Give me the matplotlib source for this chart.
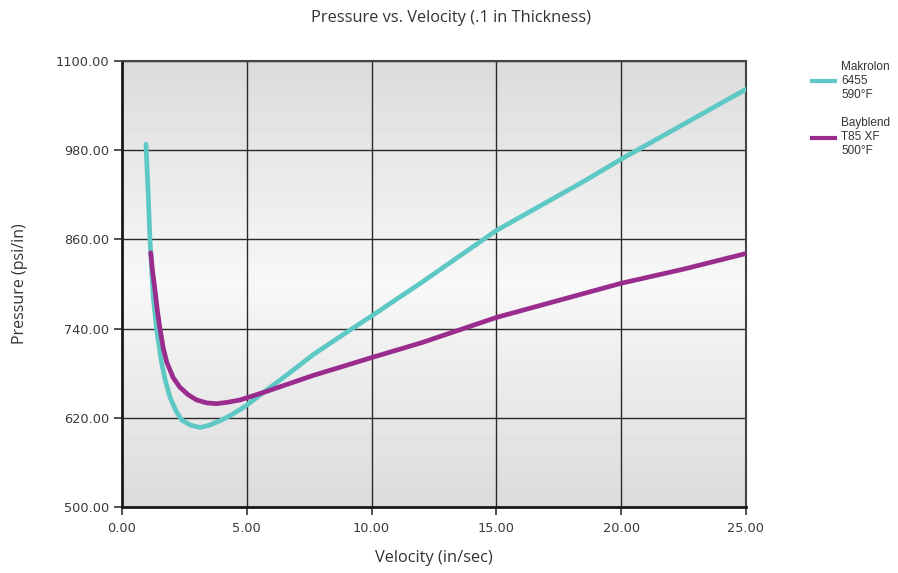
import numpy as np
import matplotlib
matplotlib.use("Agg")
import matplotlib.pyplot as plt
from matplotlib.lines import Line2D

# Data
makrolon_v = [0.96, 1.05, 1.12, 1.25, 1.39, 1.59, 1.75, 1.92, 2.15, 2.39, 2.75, 3.13, 3.5, 3.93, 4.33, 4.73,
              5.0, 5.66, 6.5, 7.66, 9.13, 10.0, 12.0, 15.0, 18.6, 20.0, 22.5, 25.0]
makrolon_p = [988, 920, 859, 783, 738, 693, 668, 648, 630, 617, 610, 607, 610, 616, 623, 631,
              637, 654, 675, 705, 738, 757, 802, 872, 940, 968, 1015, 1062]

bayblend_v = [1.15, 1.22, 1.32, 1.42, 1.52, 1.65, 1.79, 2.05, 2.32, 2.65, 2.99, 3.4, 3.79, 4.25, 4.73, 5.66, 7.66,
              10.0, 12.0, 15.0, 20.0, 22.5, 25.0]
bayblend_p = [842, 818, 792, 763, 740, 714, 695, 674, 661, 651, 644, 640, 639, 641, 644, 654, 677,
              701, 721, 755, 801, 820, 841]

legend_labels = ["Makrolon\n6455\n590°F", "Bayblend\nT85 XF\n500°F"]
x_ticks = [0, 5, 10, 15, 20, 25]
y_ticks = [500, 620, 740, 860, 980, 1100]

teal = "#5ec8c5"
purple = "#9a2c8e"

fig = plt.figure(figsize=(8.98, 5.73), dpi=100)
ax = fig.add_axes([0.1359, 0.1152, 0.8307 - 0.1359, 0.8935 - 0.1152])

# gradient background
grad = np.concatenate([np.linspace(0.86, 0.97, 50), np.linspace(0.97, 0.86, 50)])
img = np.tile(grad[:, None], (1, 2))
ax.imshow(img, cmap="gray", vmin=0, vmax=1, extent=[0, 1, 0, 1], transform=ax.transAxes,
          aspect="auto", zorder=0, interpolation="bicubic")

ax.plot(makrolon_v, makrolon_p, color=teal, lw=3.4, solid_capstyle="round",
        solid_joinstyle="round", zorder=3)
ax.plot(bayblend_v, bayblend_p, color=purple, lw=3.4, solid_capstyle="round",
        solid_joinstyle="round", zorder=4)

ax.set_xlim(0, 25)
ax.set_ylim(500, 1100)
ax.set_xticks(x_ticks)
ax.set_yticks(y_ticks)
ax.set_xticklabels([f"{t:.2f}" for t in x_ticks])
ax.set_yticklabels([f"{t:.2f}" for t in y_ticks])
ax.grid(True, color="#2a2a2a", lw=1.0, zorder=1)
for line in ax.get_xgridlines() + ax.get_ygridlines():
    line.set_zorder(1)

for s in ["left", "bottom"]:
    ax.spines[s].set_linewidth(2.0)
    ax.spines[s].set_color("#1a1a1a")
for s in ["top", "right"]:
    ax.spines[s].set_linewidth(1.5)
    ax.spines[s].set_color("#444444")

ax.tick_params(axis="both", direction="out", length=6, width=1.2, color="#333333",
               labelsize=9.3, labelcolor="#3a3a3a")
for lab in ax.get_xticklabels() + ax.get_yticklabels():
    lab.set_fontfamily("DejaVu Sans")
ax.tick_params(axis="x", pad=5)
ax.tick_params(axis="y", pad=3)

ax.set_xlabel("Velocity (in/sec)", fontsize=11.8, color="#333333", fontfamily="Open Sans")
ax.set_ylabel("Pressure (psi/in)", fontsize=11.5, color="#333333", fontfamily="Open Sans")
ax.xaxis.set_label_coords(0.5, -0.097)
ax.yaxis.set_label_coords(-0.151, 0.5)
fig.text(0.5025, 0.968, "Pressure vs. Velocity (.1 in Thickness)", ha="center", va="center",
         fontsize=11.8, color="#333333", fontfamily="Open Sans")

handles = [Line2D([], [], color=teal, lw=3), Line2D([], [], color=purple, lw=3)]
leg = fig.legend(handles, legend_labels, loc="upper left", bbox_to_anchor=(0.904, 0.893),
                 frameon=False, fontsize=8.5, handlelength=1.95, handletextpad=0.55,
                 labelspacing=1.4, borderaxespad=0, borderpad=0)
for t in leg.get_texts():
    t.set_fontfamily("Liberation Sans")
    t.set_color("#333333")

fig.savefig("out.png", dpi=100)
